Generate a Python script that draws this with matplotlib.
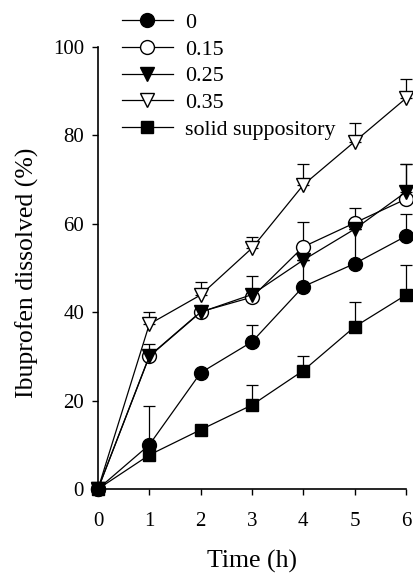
import numpy as np
import matplotlib.pyplot as plt

plt.rcParams['font.family'] = ['Liberation Serif', 'DejaVu Serif']

t = [0, 1, 2, 3, 4, 5, 6]
labels = ['0', '0.15', '0.25', '0.35', 'solid suppository']

y0 = [0, 10.0, 26.3, 33.3, 45.8, 51.0, 57.2]
e0 = [0, 8.8, 0, 3.8, 6.0, 7.8, 5.0]
y15 = [0, 30.1, 40.1, 43.4, 54.8, 60.2, 65.6]
e15 = [0, 2.7, 0, 0, 5.5, 3.3, 8.0]
y25 = [0, 30.0, 40.0, 44.0, 51.8, 58.8, 67.2]
e25 = [0, 0, 0, 4.3, 0, 0, 6.3]
y35 = [0, 37.3, 43.9, 54.5, 68.8, 78.6, 88.4]
e35 = [0, 2.8, 2.9, 2.5, 4.7, 4.3, 4.3]
ysol = [0, 7.7, 13.4, 19.0, 26.8, 36.7, 43.9]
esol = [0, 0, 0, 4.5, 3.4, 5.7, 6.8]

series = [
    (y0, e0, 'o', 'black', 10),
    (y15, e15, 'o', 'white', 10),
    (y25, e25, 'v', 'black', 10),
    (y35, e35, 'v', 'white', 10),
    (ysol, esol, 's', 'black', 8.5),
]

fig = plt.figure(figsize=(4.13, 5.75), dpi=100)
ax = fig.add_axes([98 / 413, 1 - 489 / 575, (406 - 98) / 413, (489 - 47) / 575])

handles = []
for (y, e, mk, fc, ms), lab in zip(series, labels):
    ax.errorbar(t, y, yerr=[np.zeros(len(e)), e], fmt='none', ecolor='black',
                elinewidth=0.9, capsize=4, capthick=0.9, clip_on=False, zorder=2)
    h, = ax.plot(t, y, marker=mk, color='black', mfc=fc, mec='black', ms=ms,
                 lw=0.9, mew=1.0, clip_on=False, zorder=3, label=lab)
    handles.append(h)

ax.set_xlim(0, 6)
ax.set_ylim(0, 100)
ax.set_xticks(range(7))
ax.set_yticks(range(0, 101, 20))
ax.spines['top'].set_visible(False)
ax.spines['right'].set_visible(False)
ax.spines['left'].set_linewidth(1.2)
ax.spines['bottom'].set_linewidth(1.2)
ax.tick_params(direction='out', length=4, width=1, labelsize=15)
ax.tick_params(axis='x', pad=12.5)
ax.tick_params(axis='y', pad=6)
ax.set_xlabel('Time (h)', fontsize=18.5, labelpad=14)
ax.set_ylabel('Ibuprofen dissolved (%)', fontsize=18.5, labelpad=10)
ax.yaxis.label.set_y(0.49)

leg = ax.legend(handles=handles, loc='upper left', bbox_to_anchor=(0.05, 1.098),
                frameon=False, fontsize=15.8, handlelength=2.3, handletextpad=0.55,
                labelspacing=0.29, borderaxespad=0)

fig.savefig('out.png', dpi=100)
